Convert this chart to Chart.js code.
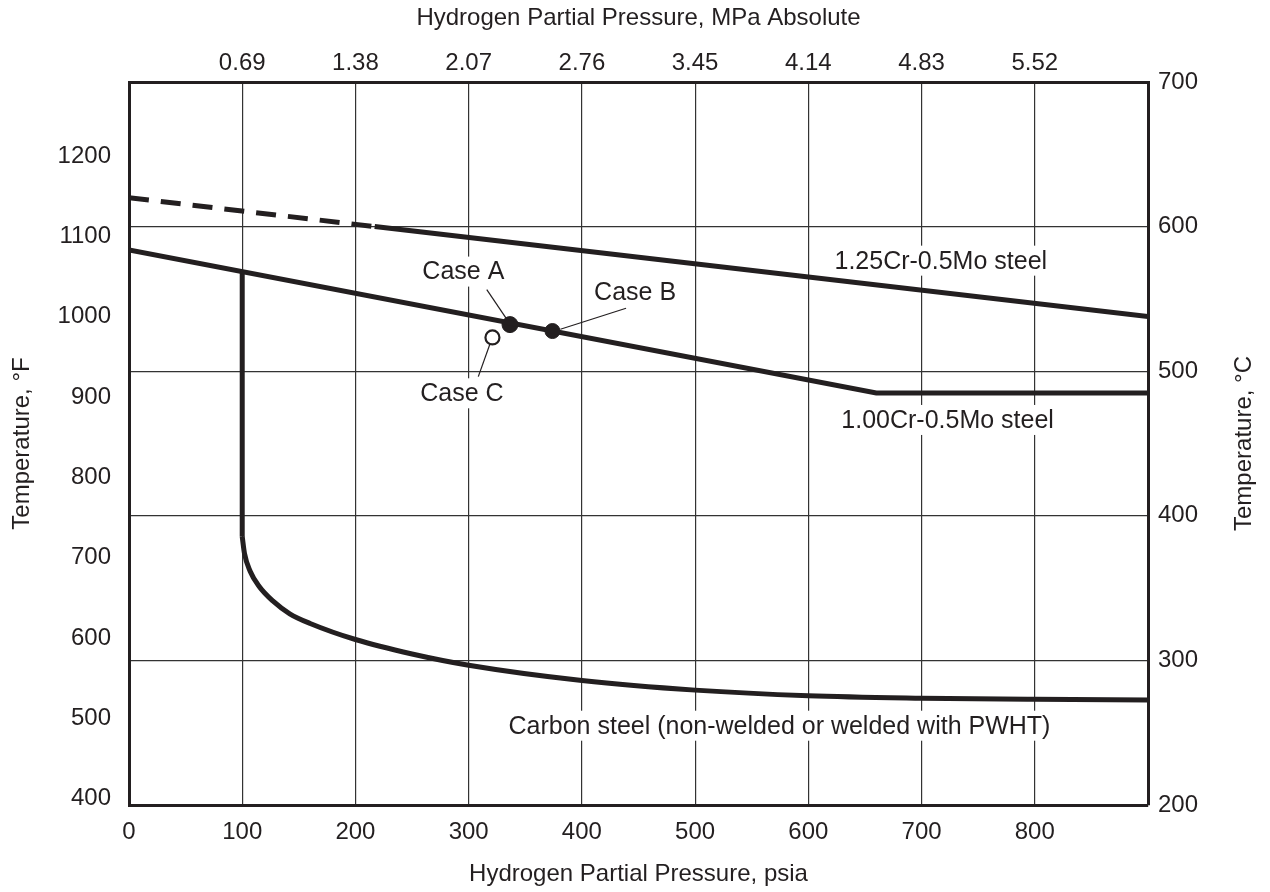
<!DOCTYPE html>
<html>
<head>
<meta charset="utf-8">
<title>Nelson curves</title>
<script src="https://cdn.jsdelivr.net/npm/chart.js@4.4.1/dist/chart.umd.min.js"></script>
<style>
  html, body { margin: 0; padding: 0; background: #fff; }
  canvas { display: block; }
</style>
</head>
<body>
<canvas id="nelson" width="1270" height="892"></canvas>
<script>
// axis ticks
var psiaTicks = [0, 100, 200, 300, 400, 500, 600, 700, 800];
var mpaTickPsia = [100, 200, 300, 400, 500, 600, 700, 800];
var degFTicks = [400, 500, 600, 700, 800, 900, 1000, 1100, 1200];
var degCTicks = [200, 300, 400, 500, 600, 700];

// 1.25Cr-0.5Mo steel (dashed up to 217 psia)
var cr125Psia = [0, 217, 900];
var cr125Temp = [1148, 1112, 1000];
// 1.00Cr-0.5Mo steel
var cr100Psia = [0, 660, 900];
var cr100Temp = [1083, 905, 905];
// carbon steel: vertical part, then curve
var carbonVertPsia = [100, 100];
var carbonVertTemp = [1056, 726];
var carbonPsia = [100, 102, 107, 115, 127, 142, 160, 200, 250, 300, 400, 500, 600, 700, 800, 900];
var carbonTemp = [726, 705, 683, 664, 646, 630, 618, 598, 580, 566, 547, 535, 528, 525, 523.5, 522.7];
// cases
var caseNames = ['Case A', 'Case B', 'Case C'];
var casePsia = [336.5, 374, 321];
var caseTemp = [990, 982, 974];

var ink = '#231f20';
var fam = "'Liberation Sans', Arial, Helvetica, sans-serif";

function pts(xs, ys) {
  return xs.map(function (x, i) { return { x: x, y: ys[i] }; });
}
function setTicks(values) {
  return function (scale) {
    scale.ticks = values.map(function (v) { return { value: v }; });
  };
}
function plain(v) { return String(v); }

// text labels and leader lines, in psia / degF
var notes = [
  { text: caseNames[0], x: 295.3, y: 1056 },
  { text: caseNames[1], x: 447, y: 1030 },
  { text: caseNames[2], x: 294, y: 904.5 },
  { text: '1.25Cr-0.5Mo steel', x: 717, y: 1069.6 },
  { text: '1.00Cr-0.5Mo steel', x: 723, y: 871.3 },
  { text: 'Carbon steel (non-welded or welded with PWHT)', x: 574.5, y: 490.7 }
];
var leaders = [
  [316, 1033.6, 333, 998],
  [439, 1010.3, 381, 984.2],
  [308.5, 925.2, 318.8, 965.9]
];

var notesPlugin = {
  id: 'notes',
  beforeDatasetsDraw: function (chart) {
    var ctx = chart.ctx, sx = chart.scales.x, sy = chart.scales.y;
    ctx.save();
    ctx.font = '25px ' + fam;
    ctx.textAlign = 'center';
    ctx.textBaseline = 'middle';
    notes.forEach(function (n) {
      var px = sx.getPixelForValue(n.x), py = sy.getPixelForValue(n.y);
      var w = ctx.measureText(n.text).width + 8;
      ctx.fillStyle = '#fff';
      ctx.fillRect(px - w / 2, py - 15, w, 30);
      ctx.fillStyle = ink;
      ctx.fillText(n.text, px, py + 1);
    });
    ctx.strokeStyle = ink;
    ctx.lineWidth = 1.2;
    leaders.forEach(function (l) {
      ctx.beginPath();
      ctx.moveTo(sx.getPixelForValue(l[0]), sy.getPixelForValue(l[1]));
      ctx.lineTo(sx.getPixelForValue(l[2]), sy.getPixelForValue(l[3]));
      ctx.stroke();
    });
    ctx.restore();
  },
  afterDraw: function (chart) {
    // right axis title, read bottom to top like the left one
    var ctx = chart.ctx, a = chart.chartArea;
    ctx.save();
    ctx.font = '24px ' + fam;
    ctx.fillStyle = ink;
    ctx.textAlign = 'center';
    ctx.textBaseline = 'middle';
    ctx.translate(chart.width - 26, (a.top + a.bottom) / 2);
    ctx.rotate(-Math.PI / 2);
    ctx.fillText('Temperature, °C', 0, 0);
    ctx.restore();
  }
};

var tickFont = { family: fam, size: 24 };

new Chart(document.getElementById('nelson'), {
  type: 'scatter',
  data: {
    datasets: [
      {
        label: '1.25Cr-0.5Mo steel',
        data: pts(cr125Psia, cr125Temp),
        showLine: true, borderColor: ink, borderWidth: 5, pointRadius: 0,
        segment: {
          borderDash: function (c) { return c.p1.parsed.x <= 217 ? [20, 12] : undefined; }
        }
      },
      {
        label: '1.00Cr-0.5Mo steel',
        data: pts(cr100Psia, cr100Temp),
        showLine: true, borderColor: ink, borderWidth: 5, pointRadius: 0
      },
      {
        label: 'Carbon steel',
        data: pts(carbonVertPsia, carbonVertTemp),
        showLine: true, borderColor: ink, borderWidth: 5, pointRadius: 0
      },
      {
        label: 'Carbon steel curve',
        data: pts(carbonPsia, carbonTemp),
        showLine: true, borderColor: ink, borderWidth: 5, pointRadius: 0,
        cubicInterpolationMode: 'monotone'
      },
      {
        label: 'Cases',
        data: pts(casePsia, caseTemp),
        showLine: false,
        pointRadius: [8, 7.5, 7],
        pointBackgroundColor: [ink, ink, '#fff'],
        pointBorderColor: ink,
        pointBorderWidth: [1, 1, 2.2]
      }
    ]
  },
  options: {
    responsive: false,
    animation: false,
    devicePixelRatio: 1,
    layout: { padding: 0 },
    plugins: { legend: { display: false }, tooltip: { enabled: false } },
    scales: {
      x: {
        type: 'linear', position: 'bottom', min: 0, max: 900,
        afterBuildTicks: setTicks(psiaTicks),
        afterFit: function (s) { s.height = 87; },
        grid: { color: '#333', lineWidth: 1.2, drawTicks: false },
        border: { color: ink, width: 3 },
        ticks: { color: ink, font: tickFont, padding: 13, maxRotation: 0, callback: plain },
        title: { display: true, text: 'Hydrogen Partial Pressure, psia', color: ink, font: tickFont, padding: { top: 0, bottom: 3 } }
      },
      xTop: {
        type: 'linear', position: 'top', min: 0, max: 900,
        afterBuildTicks: setTicks(mpaTickPsia),
        afterFit: function (s) { s.height = 82; },
        grid: { display: false, drawTicks: false },
        border: { color: ink, width: 3 },
        ticks: {
          color: ink, font: tickFont, padding: 4, maxRotation: 0,
          callback: function (v) { return (v * 0.0069).toFixed(2); }
        },
        title: { display: true, text: 'Hydrogen Partial Pressure, MPa Absolute', color: ink, font: tickFont, padding: { top: 4, bottom: 0 } }
      },
      y: {
        type: 'linear', position: 'left', min: 392, max: 1292,
        afterBuildTicks: setTicks(degFTicks),
        afterFit: function (s) { s.width = 129; },
        grid: { display: false, drawTicks: false },
        border: { color: ink, width: 3 },
        ticks: { color: ink, font: tickFont, padding: 18, callback: plain },
        title: { display: true, text: 'Temperature, °F', color: ink, font: tickFont, padding: { top: 8, bottom: 0 } }
      },
      yC: {
        type: 'linear', position: 'right', min: 200, max: 700,
        afterBuildTicks: setTicks(degCTicks),
        afterFit: function (s) { s.width = 122; },
        grid: { color: '#333', lineWidth: 1.2, drawTicks: false },
        border: { color: ink, width: 3 },
        ticks: { color: ink, font: tickFont, padding: 10, callback: plain },
        title: { display: false }
      }
    }
  },
  plugins: [notesPlugin]
});
</script>
</body>
</html>
